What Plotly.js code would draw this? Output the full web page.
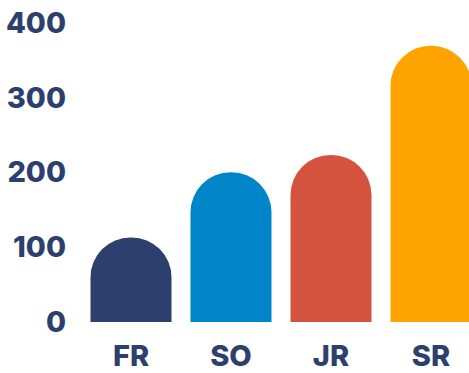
<!DOCTYPE html>
<html>
<head>
<meta charset="utf-8">
<script src="https://cdn.plot.ly/plotly-3.0.1.min.js"></script>
<style>html,body{margin:0;padding:0;background:#fff;}#chart{width:469px;height:373px;}</style>
</head>
<body>
<div id="chart"></div>
<script>
const categories = ["FR", "SO", "JR", "SR"];
const values = [113, 200, 223, 369];
const barColors = ["#2d3f6d", "#0086c8", "#d4533e", "#ffa300"];
const yTicks = [0, 100, 200, 300, 400];

const fontFamily = "Inter, 'Open Sans', sans-serif";
const textColor = "#2d3f6d";

Plotly.newPlot("chart", [{
  type: "bar",
  x: categories,
  y: values,
  marker: { color: barColors, line: { width: 0 } },
  hoverinfo: "none"
}], {
  width: 469,
  height: 373,
  margin: { l: 81, r: 0, t: 0, b: 50.5 },
  paper_bgcolor: "#ffffff",
  plot_bgcolor: "#ffffff",
  bargap: 0.19,
  barcornerradius: "50%",
  showlegend: false,
  font: { family: fontFamily, color: textColor, size: 29, weight: 800 },
  xaxis: {
    type: "category",
    range: [-0.5, 3.38],
    showgrid: false, zeroline: false, showline: false,
    ticks: "",
    tickfont: { family: fontFamily, color: textColor, size: 29, weight: 800 },
    ticklabelstandoff: 14
  },
  yaxis: {
    range: [0, 430],
    tickvals: yTicks,
    ticktext: yTicks.map(String),
    showgrid: false, zeroline: false, showline: false,
    ticks: "",
    tickfont: { family: fontFamily, color: textColor, size: 29, weight: 800 },
    ticklabelstandoff: 14
  }
}, { displayModeBar: false, staticPlot: true });
</script>
</body>
</html>
